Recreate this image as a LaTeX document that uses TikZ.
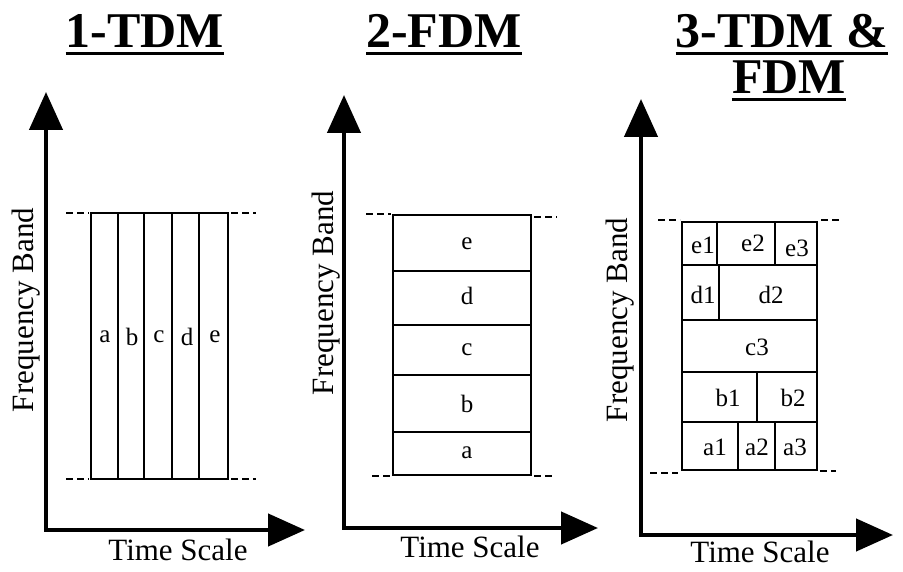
\documentclass[tikz,border=0pt]{standalone}
\usepackage{fontspec}
\setmainfont{Liberation Serif}
\usetikzlibrary{arrows.meta}

\tikzset{
  axis/.style={line width=4.5pt,
    {Triangle[length=38pt,width=33pt]}-{Triangle[length=37pt,width=32pt]}},
  cell/.style={line width=2pt},
  band/.style={line width=2pt, dash pattern=on 7pt off 4pt},
  title/.style={font=\fontsize{50}{54}\selectfont\bfseries, inner sep=0pt, anchor=base},
  uline/.style={line width=3pt},
  axlabel/.style={font=\fontsize{31}{34}\selectfont, inner sep=0pt, anchor=base},
  chan/.style={font=\fontsize{25}{28}\selectfont, inner sep=0pt},
}

\begin{document}
\begin{tikzpicture}[x=1pt,y=-1pt]
\useasboundingbox (0,0) rectangle (903,572);

% 1-TDM
\begin{scope}
    \coordinate (o1) at (46,530);
    \coordinate (f1) at (46,92);
    \coordinate (t1) at (305,530);
    \draw[axis] (f1) -- (o1) -- (t1);

    \node[title] (h1) at (145,48) {1-TDM};
    \draw[uline] ([yshift=-6pt]h1.base west) -- ([yshift=-6pt]h1.base east);

    \node[axlabel,rotate=90] (fb1) at (34,310) {Frequency Band};
    \node[axlabel] (ts1) at (178,560) {Time Scale};

    \draw[cell] (91,213) rectangle (228,479);
    \foreach \x in {118,144,172,199}
        \draw[cell] (\x,213) -- (\x,479);
    \foreach \x/\c in {105/a,132/b,159/c,187/d,215/e}
        \node[chan] (s1\c) at (\x,337) {\c};

    \draw[band] (66,213) -- (89,213);
    \draw[band] (231,213) -- (256,213);
    \draw[band] (66,479) -- (89,479);
    \draw[band] (231,479) -- (256,479);
\end{scope}

% 2-FDM
\begin{scope}
    \coordinate (o2) at (344,528);
    \coordinate (f2) at (344,95);
    \coordinate (t2) at (598,528);
    \draw[axis] (f2) -- (o2) -- (t2);

    \node[title] (h2) at (444,48) {2-FDM};
    \draw[uline] ([yshift=-6pt]h2.base west) -- ([yshift=-6pt]h2.base east);

    \node[axlabel,rotate=90] (fb2) at (333,293) {Frequency Band};
    \node[axlabel] (ts2) at (470,557) {Time Scale};

    \draw[cell] (393,215) rectangle (531,475);
    \foreach \y in {271,325,375,432}
        \draw[cell] (393,\y) -- (531,\y);
    \foreach \y/\c in {244/e,296/d,350/c,404/b,453/a}
        \node[chan] (s2\c) at (467,\y) {\c};

    \draw[band] (366,214) -- (391,214);
    \draw[band] (534,217) -- (557,217);
    \draw[band] (372,476) -- (391,476);
    \draw[band] (534,476) -- (553,476);
\end{scope}

% 3-TDM & FDM
\begin{scope}
    \coordinate (o3) at (641,535);
    \coordinate (f3) at (641,99);
    \coordinate (t3) at (893,535);
    \draw[axis] (f3) -- (o3) -- (t3);

    \node[title] (h3a) at (782,48) {3-TDM \&};
    \draw[uline] ([yshift=-6pt]h3a.base west) -- ([yshift=-6pt]h3a.base east);
    \node[title] (h3b) at (789,94) {FDM};
    \draw[uline] ([yshift=-6pt]h3b.base west) -- ([yshift=-6pt]h3b.base east);

    \node[axlabel,rotate=90] (fb3) at (627,320) {Frequency Band};
    \node[axlabel] (ts3) at (760,562) {Time Scale};

    \draw[cell] (682,222) rectangle (817,470);
    \foreach \y in {265,320,372,422}
        \draw[cell] (682,\y) -- (817,\y);
    \draw[cell] (717,222) -- (717,265);
    \draw[cell] (775,222) -- (775,265);
    \draw[cell] (719,265) -- (719,320);
    \draw[cell] (757,372) -- (757,422);
    \draw[cell] (738,422) -- (738,470);
    \draw[cell] (775,422) -- (775,470);

    \node[chan] (e1) at (703,245) {e1};
    \node[chan] (e2) at (753,243) {e2};
    \node[chan] (e3) at (797,248) {e3};
    \node[chan] (d1) at (703,295) {d1};
    \node[chan] (d2) at (771,295) {d2};
    \node[chan] (c3) at (757,347) {c3};
    \node[chan] (b1) at (728,398) {b1};
    \node[chan] (b2) at (793,398) {b2};
    \node[chan] (a1) at (715,447) {a1};
    \node[chan] (a2) at (757,447) {a2};
    \node[chan] (a3) at (795,447) {a3};

    \draw[band] (658,220) -- (680,220);
    \draw[band] (821,220) -- (842,220);
    \draw[band] (650,473) -- (678,473);
    \draw[band] (820,471) -- (836,471);
\end{scope}

\end{tikzpicture}
\end{document}
